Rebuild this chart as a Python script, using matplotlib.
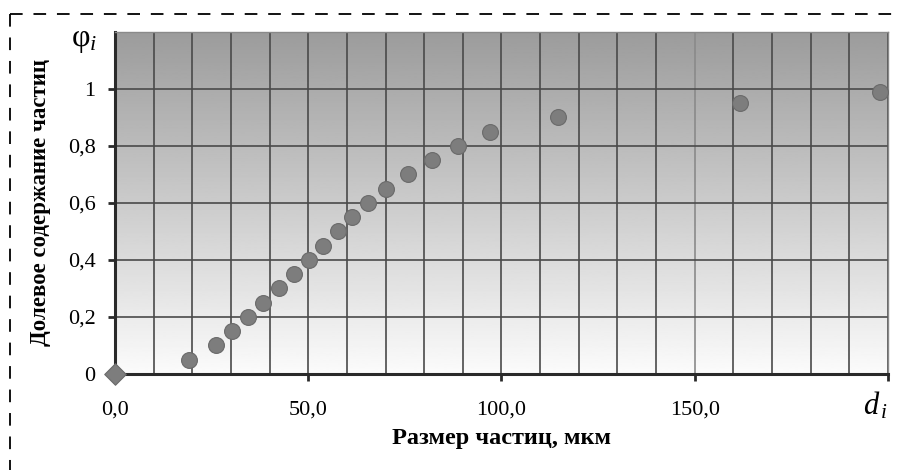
import matplotlib
matplotlib.use("Agg")
import matplotlib.pyplot as plt
import numpy as np
from matplotlib.lines import Line2D

plt.rcParams["font.family"] = ["Liberation Serif", "DejaVu Serif"]
plt.rcParams["mathtext.fontset"] = "custom"
plt.rcParams["mathtext.rm"] = "Liberation Serif"
plt.rcParams["mathtext.it"] = "Liberation Serif:italic"

# размер частиц d_i, мкм и долевое содержание phi_i
d_i = [0.0, 19.1, 26.2, 30.3, 34.5, 38.4, 42.5, 46.2, 50.1, 53.8, 57.6,
       61.2, 65.5, 70.0, 75.9, 82.1, 88.8, 97.0, 114.6, 161.7, 197.9]
phi_i = [0.0, 0.05, 0.10, 0.15, 0.20, 0.25, 0.30, 0.35, 0.40, 0.45, 0.50,
         0.55, 0.60, 0.65, 0.70, 0.75, 0.80, 0.85, 0.90, 0.95, 0.99]

x_ticks = [0, 50, 100, 150]
x_labels = ["0,0", "50,0", "100,0", "150,0"]
y_ticks = [0, 0.2, 0.4, 0.6, 0.8, 1.0]
y_labels = ["0", "0,2", "0,4", "0,6", "0,8", "1"]

fig = plt.figure(figsize=(9.01, 4.70), dpi=100)
ax = fig.add_axes([0.1276, 0.2043, 0.9856 - 0.1276, 0.9319 - 0.2043])
ax.set_xlim(0, 200)
ax.set_ylim(0, 1.2)

# вертикальный градиент фона: серый сверху, белый снизу
grad = np.linspace(0.61, 0.985, 256).reshape(-1, 1)
ax.imshow(grad, extent=[0, 1, 0, 1], transform=ax.transAxes, aspect="auto",
          cmap="gray", vmin=0, vmax=1, origin="upper", zorder=0)

for xv in range(10, 201, 10):
    col = "#8a8a8a" if xv == 150 else "#4a4a4a"
    ax.axvline(xv, color=col, lw=1.2, zorder=1)
for yv in y_ticks[1:]:
    ax.axhline(yv, color="#4a4a4a", lw=1.2, zorder=1)

ax.scatter(d_i[1:], phi_i[1:], s=130, color="#7d7d7d", edgecolors="#6a6a6a",
           linewidths=0.8, zorder=3, clip_on=False)
ax.scatter(d_i[:1], phi_i[:1], s=120, marker="D", color="#7d7d7d",
           edgecolors="#6a6a6a", linewidths=0.8, zorder=4, clip_on=False)

for side in ("left", "bottom"):
    ax.spines[side].set_linewidth(2.2)
    ax.spines[side].set_color("#2a2a2a")
for side in ("top", "right"):
    ax.spines[side].set_linewidth(1.0)
    ax.spines[side].set_color("#8a8a8a")

ax.set_xticks(x_ticks + [200])
ax.set_xticklabels(x_labels + [""])
ax.set_yticks(y_ticks)
ax.set_yticklabels(y_labels)
ax.tick_params(axis="both", direction="out", length=5, width=2,
               color="#2a2a2a", labelsize=16)
ax.tick_params(axis="x", pad=14)
ax.tick_params(axis="y", pad=9)

ax.text(200, -0.11, r"$d_{\,i}$", ha="right", va="center", fontsize=22,
        transform=ax.transData, clip_on=False)
ax.text(-0.023, 1.17, r"$\mathrm{φ}_{i}$", ha="right", va="center",
        fontsize=23, transform=ax.get_yaxis_transform(), clip_on=False)

ax.set_xlabel("Размер частиц, мкм", fontsize=17.5, fontweight="bold",
              labelpad=6)
ax.set_ylabel("Долевое содержание частиц", fontsize=16.5, fontweight="bold",
              labelpad=12)

# пунктирная рамка по верху и по левому краю
fig.add_artist(Line2D([0.011, 0.995], [0.97, 0.97], transform=fig.transFigure,
                      color="black", lw=1.3, ls=(0, (7, 6))))
fig.add_artist(Line2D([0.011, 0.011], [0.97, 0.0], transform=fig.transFigure,
                      color="black", lw=1.3, ls=(0, (7, 6))))

fig.savefig("out.png", dpi=100)
